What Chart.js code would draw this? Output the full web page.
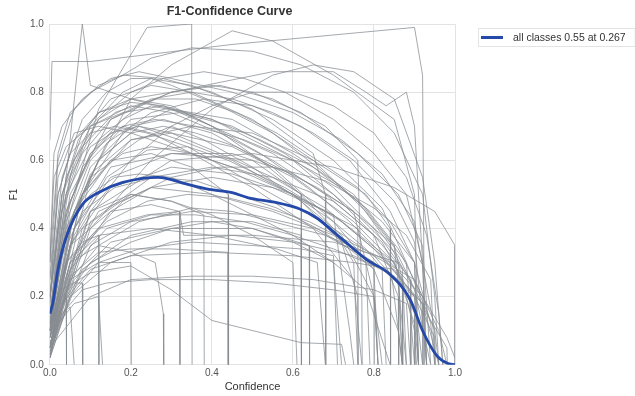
<!DOCTYPE html>
<html>
<head>
<meta charset="utf-8">
<script src="https://cdn.jsdelivr.net/npm/chart.js@4/dist/chart.umd.min.js"></script>
<style>
  html, body { margin: 0; padding: 0; background: #fff; }
  #wrap { width: 635px; height: 396px; }
</style>
</head>
<body>
<div id="wrap"><canvas id="chart"></canvas></div>
<script>
// ── DATA ──────────────────────────────────────────────────────────────────
const X_TICKS = [0, 0.2, 0.4, 0.6, 0.8, 1.0];
const Y_TICKS = [0, 0.2, 0.4, 0.6, 0.8, 1.0];

const ALL_LABEL = 'all classes 0.55 at 0.267';

// mean curve over all classes: [confidence, F1]
const ALL_CURVE = [
  [0,0.15],[0.007,0.18],[0.02,0.28],[0.042,0.38],[0.08,0.47],[0.123,0.507],
  [0.18,0.535],[0.267,0.55],[0.338,0.53],[0.387,0.516],[0.45,0.505],[0.49,0.49],
  [0.55,0.478],[0.617,0.457],[0.66,0.43],[0.70,0.39],[0.74,0.35],[0.78,0.31],
  [0.84,0.265],[0.89,0.19],[0.92,0.10],[0.955,0.027],[0.98,0.005],[1.0,0]
];

// per-class curves: [confidence, F1]
const CLASS_CURVES = [
  [[0,0.66],[0.005,0.89],[0.1,0.89],[0.45,0.94],[0.9,0.99],[0.92,0.85],[0.925,0]],
  [[0,0.2],[0.04,0.55],[0.08,1.0],[0.1,0.82],[0.2,0.78],[0.4,0.72],[0.6,0.6],[0.75,0.45],[0.8,0.2],[0.81,0]],
  [[0,0.1],[0.05,0.45],[0.12,0.75],[0.24,0.99],[0.35,1.0],[0.351,0]],
  [[0,0.05],[0.1,0.55],[0.2,0.78],[0.3,0.88],[0.45,0.98],[0.55,0.95],[0.7,0.85],[0.85,0.72],[0.9,0.5],[0.91,0]],
  [[0,0.15],[0.05,0.5],[0.15,0.72],[0.3,0.8],[0.55,0.86],[0.7,0.86],[0.78,0.8],[0.83,0.76],[0.88,0.8],[0.9,0.7],[0.92,0.3],[0.93,0]],
  [[0,0.08],[0.08,0.5],[0.18,0.68],[0.3,0.75],[0.45,0.72],[0.6,0.62],[0.75,0.5],[0.85,0.35],[0.88,0]],
  [[0,0.1],[0.03,0.35],[0.1,0.58],[0.2,0.7],[0.28,0.72],[0.4,0.68],[0.55,0.58],[0.7,0.42],[0.8,0.28],[0.86,0.1],[0.87,0]],
  [[0,0.05],[0.05,0.4],[0.12,0.6],[0.22,0.7],[0.32,0.66],[0.45,0.6],[0.6,0.5],[0.72,0.38],[0.8,0.2],[0.82,0]],
  [[0,0.12],[0.04,0.45],[0.1,0.62],[0.18,0.7],[0.25,0.68],[0.35,0.62],[0.5,0.52],[0.65,0.4],[0.75,0.25],[0.77,0]],
  [[0,0.05],[0.06,0.3],[0.15,0.45],[0.25,0.52],[0.4,0.55],[0.55,0.52],[0.7,0.44],[0.85,0.3],[0.9,0.12],[0.91,0]],
  [[0,0.02],[0.03,0.18],[0.1,0.28],[0.2,0.32],[0.4,0.33],[0.6,0.32],[0.75,0.3],[0.85,0.28],[0.9,0.2],[0.91,0]],
  [[0,0.1],[0.03,0.22],[0.1,0.27],[0.2,0.29],[0.3,0.22],[0.4,0.13],[0.62,0.065],[0.72,0.06],[0.73,0]],
  [[0,0.05],[0.02,0.15],[0.04,0.2],[0.041,0]],
  [[0,0.08],[0.03,0.2],[0.06,0.24],[0.08,0.24],[0.081,0]],
  [[0,0.1],[0.04,0.3],[0.08,0.36],[0.12,0.38],[0.121,0]],
  [[0,0.05],[0.05,0.25],[0.12,0.3],[0.2,0.3],[0.201,0]],
  [[0,0.08],[0.05,0.3],[0.12,0.35],[0.2,0.33],[0.26,0.3],[0.28,0.15],[0.281,0]],
  [[0,0.1],[0.05,0.35],[0.15,0.45],[0.25,0.47],[0.32,0.45],[0.321,0]],
  [[0,0.05],[0.08,0.4],[0.2,0.5],[0.3,0.48],[0.38,0.44],[0.381,0]],
  [[0,0.1],[0.06,0.45],[0.15,0.6],[0.25,0.62],[0.35,0.58],[0.44,0.5],[0.441,0]],
  [[0,0.15],[0.04,0.5],[0.1,0.7],[0.18,0.8],[0.25,0.84],[0.35,0.82],[0.5,0.75],[0.65,0.62],[0.68,0.5],[0.681,0]],
  [[0,0.05],[0.06,0.4],[0.15,0.58],[0.3,0.62],[0.5,0.6],[0.62,0.5],[0.621,0]],
  [[0,0.03],[0.06,0.25],[0.15,0.36],[0.3,0.4],[0.5,0.4],[0.64,0.35],[0.641,0]],
  [[0,0.1],[0.05,0.48],[0.12,0.66],[0.22,0.76],[0.3,0.8],[0.42,0.82],[0.55,0.78],[0.68,0.7],[0.76,0.6],[0.77,0.2],[0.771,0]],
  [[0,0.05],[0.05,0.35],[0.15,0.52],[0.3,0.58],[0.45,0.56],[0.6,0.5],[0.76,0.4],[0.761,0]],
  [[0,0.1],[0.08,0.5],[0.2,0.66],[0.35,0.7],[0.5,0.68],[0.65,0.6],[0.78,0.5],[0.84,0.4],[0.841,0]],
  [[0,0.06],[0.1,0.42],[0.25,0.55],[0.4,0.58],[0.55,0.55],[0.7,0.48],[0.82,0.36],[0.87,0.25],[0.871,0]],
  [[0,0.08],[0.05,0.4],[0.1,0.56],[0.2,0.66],[0.3,0.68],[0.45,0.64],[0.6,0.55],[0.75,0.42],[0.85,0.3],[0.9,0.15],[0.901,0]],
  [[0,0.2],[0.03,0.5],[0.08,0.68],[0.15,0.78],[0.25,0.82],[0.35,0.8],[0.5,0.72],[0.65,0.6],[0.78,0.45],[0.88,0.3],[0.95,0.1],[0.951,0]],
  [[0,0.1],[0.06,0.4],[0.15,0.55],[0.3,0.62],[0.45,0.62],[0.6,0.56],[0.75,0.45],[0.86,0.32],[0.93,0.15],[0.98,0.05],[0.981,0]],
  [[0,0.05],[0.1,0.35],[0.2,0.42],[0.35,0.45],[0.5,0.44],[0.65,0.4],[0.8,0.3],[0.9,0.2],[0.95,0.08],[0.951,0]],
  [[0,0.15],[0.05,0.55],[0.12,0.72],[0.2,0.78],[0.3,0.76],[0.4,0.7],[0.55,0.62],[0.7,0.5],[0.8,0.38],[0.86,0.2],[0.861,0]],
  [[0,0.1],[0.04,0.42],[0.1,0.6],[0.2,0.72],[0.32,0.74],[0.45,0.7],[0.58,0.62],[0.7,0.52],[0.8,0.4],[0.89,0.25],[0.891,0]],
  [[0,0.05],[0.05,0.3],[0.12,0.45],[0.25,0.52],[0.4,0.5],[0.55,0.45],[0.7,0.38],[0.8,0.3],[0.801,0]],
  [[0,0.02],[0.05,0.2],[0.15,0.3],[0.3,0.36],[0.45,0.38],[0.6,0.36],[0.75,0.32],[0.85,0.26],[0.92,0.18],[0.921,0]],
  [[0,0.04],[0.08,0.28],[0.2,0.38],[0.35,0.42],[0.5,0.42],[0.62,0.38],[0.621,0]],
  [[0,0.1],[0.02,0.3],[0.08,0.5],[0.15,0.6],[0.22,0.66],[0.3,0.7],[0.38,0.66],[0.5,0.58],[0.62,0.48],[0.72,0.36],[0.76,0.2],[0.761,0]],
  [[0,0.25],[0.02,0.6],[0.06,0.75],[0.12,0.82],[0.18,0.85],[0.28,0.84],[0.4,0.8],[0.55,0.72],[0.7,0.6],[0.82,0.46],[0.88,0.3],[0.9,0]],
  [[0,0.08],[0.06,0.38],[0.14,0.55],[0.24,0.63],[0.34,0.64],[0.44,0.6],[0.58,0.52],[0.72,0.42],[0.82,0.32],[0.9,0.2],[0.92,0]],
  [[0,0.03],[0.04,0.2],[0.1,0.3],[0.2,0.36],[0.3,0.4],[0.4,0.42],[0.5,0.4],[0.6,0.36],[0.7,0.3],[0.72,0]],
  [[0,0.12],[0.04,0.45],[0.1,0.62],[0.18,0.72],[0.25,0.76],[0.33,0.74],[0.4,0.7],[0.52,0.62],[0.64,0.52],[0.74,0.42],[0.84,0.3],[0.87,0]],
  [[0,0.05],[0.05,0.35],[0.1,0.45],[0.2,0.5],[0.3,0.48],[0.4,0.44],[0.5,0.38],[0.6,0.3],[0.61,0]],
  [[0,0.2],[0.03,0.55],[0.08,0.72],[0.14,0.8],[0.2,0.84],[0.25,0.84],[0.3,0.82],[0.42,0.76],[0.55,0.68],[0.66,0.58],[0.76,0.48],[0.84,0.35],[0.9,0.22],[0.94,0]],
  [[0,0.05],[0.1,0.2],[0.2,0.25],[0.35,0.26],[0.5,0.26],[0.65,0.25],[0.8,0.22],[0.88,0.18],[0.89,0]],
  [[0,0.12],[0.03,0.4],[0.08,0.58],[0.15,0.68],[0.22,0.7],[0.3,0.68],[0.42,0.62],[0.55,0.55],[0.68,0.46],[0.8,0.34],[0.92,0.18],[0.96,0]],
  [[0,0.3],[0.02,0.62],[0.05,0.74],[0.1,0.8],[0.18,0.85],[0.25,0.9],[0.35,0.93],[0.5,0.92],[0.62,0.88],[0.75,0.8],[0.85,0.68],[0.92,0.5],[0.95,0.2],[0.96,0]],
  [[0,0.2],[0.03,0.5],[0.07,0.66],[0.12,0.74],[0.2,0.77],[0.28,0.76],[0.4,0.7],[0.52,0.6],[0.62,0.5],[0.7,0.4],[0.75,0.3],[0.76,0]],
  [[0,0.05],[0.05,0.25],[0.12,0.35],[0.22,0.42],[0.35,0.46],[0.45,0.45],[0.55,0.42],[0.68,0.38],[0.8,0.32],[0.9,0.25],[0.96,0.1],[0.98,0]],
  [[0,0.1],[0.02,0.3],[0.05,0.42],[0.1,0.5],[0.16,0.55],[0.22,0.56],[0.3,0.55],[0.4,0.5],[0.5,0.44],[0.6,0.38],[0.7,0.3],[0.78,0.22],[0.84,0]],
  [[0,0.05],[0.1,0.4],[0.25,0.6],[0.4,0.75],[0.55,0.85],[0.65,0.88],[0.75,0.86],[0.85,0.78],[0.92,0.55],[0.95,0.3],[0.97,0]],
  [[0,0.18],[0.02,0.55],[0.06,0.68],[0.12,0.7],[0.2,0.68],[0.3,0.64],[0.45,0.58],[0.6,0.5],[0.7,0.44],[0.74,0.1],[0.75,0]],
  [[0,0.1],[0.05,0.3],[0.12,0.38],[0.25,0.4],[0.4,0.38],[0.56,0.34],[0.66,0.3],[0.68,0]],
  [[0,0.3],[0.01,0.62],[0.03,0.7],[0.08,0.78],[0.15,0.84],[0.22,0.86],[0.3,0.84],[0.45,0.8],[0.6,0.74],[0.72,0.66],[0.82,0.56],[0.9,0.42],[0.95,0.1],[0.96,0]],
  [[0,0.02],[0.02,0.12],[0.06,0.18],[0.12,0.2],[0.13,0]],
  [[0,0.03],[0.03,0.15],[0.05,0.17],[0.06,0]],
  [[0,0.1],[0.1,0.45],[0.3,0.6],[0.5,0.62],[0.7,0.58],[0.85,0.52],[0.95,0.45],[1.0,0.35],[1.0,0]],
  [[0,0.1],[0.03,0.45],[0.08,0.62],[0.15,0.72],[0.25,0.78],[0.35,0.8],[0.45,0.78],[0.55,0.74],[0.65,0.68],[0.75,0.6],[0.85,0.48],[0.9,0.36],[0.93,0]],
  [[0,0.15],[0.04,0.55],[0.1,0.7],[0.2,0.76],[0.3,0.74],[0.42,0.68],[0.55,0.6],[0.68,0.5],[0.8,0.38],[0.87,0.28],[0.88,0]],
  [[0,0.05],[0.06,0.45],[0.14,0.65],[0.25,0.74],[0.38,0.78],[0.5,0.76],[0.62,0.7],[0.74,0.6],[0.84,0.45],[0.9,0.3],[0.91,0]],
  [[0,0.2],[0.02,0.5],[0.06,0.66],[0.12,0.74],[0.2,0.78],[0.3,0.8],[0.4,0.82],[0.5,0.8],[0.62,0.74],[0.76,0.62],[0.86,0.5],[0.92,0.35],[0.94,0]],
  [[0,0.08],[0.05,0.42],[0.12,0.6],[0.2,0.68],[0.28,0.7],[0.36,0.68],[0.46,0.64],[0.56,0.58],[0.66,0.52],[0.76,0.44],[0.85,0.35],[0.9,0.1],[0.905,0]],
  [[0,0.1],[0.04,0.4],[0.1,0.55],[0.18,0.62],[0.25,0.64],[0.35,0.62],[0.5,0.56],[0.6,0.5],[0.7,0.42],[0.78,0.34],[0.82,0.28],[0.83,0]],
  [[0,0.3],[0.01,0.55],[0.04,0.64],[0.1,0.7],[0.18,0.74],[0.28,0.76],[0.4,0.72],[0.52,0.66],[0.65,0.58],[0.78,0.46],[0.86,0.34],[0.92,0.2],[0.93,0]],
  [[0,0.05],[0.08,0.35],[0.18,0.48],[0.3,0.55],[0.42,0.58],[0.55,0.58],[0.68,0.54],[0.8,0.46],[0.88,0.38],[0.94,0.25],[0.95,0]],
  [[0,0.1],[0.03,0.32],[0.08,0.45],[0.16,0.52],[0.26,0.55],[0.36,0.54],[0.46,0.5],[0.56,0.46],[0.66,0.4],[0.74,0.34],[0.8,0.28],[0.81,0]],
  [[0,0.02],[0.05,0.2],[0.12,0.3],[0.22,0.34],[0.35,0.36],[0.5,0.35],[0.62,0.34],[0.7,0.32],[0.71,0]],
  [[0,0.05],[0.05,0.28],[0.14,0.4],[0.25,0.44],[0.36,0.44],[0.48,0.42],[0.6,0.38],[0.7,0.34],[0.78,0.3],[0.79,0]],
  [[0,0.1],[0.02,0.4],[0.06,0.6],[0.12,0.72],[0.2,0.8],[0.28,0.84],[0.38,0.86],[0.48,0.84],[0.58,0.8],[0.7,0.72],[0.8,0.62],[0.88,0.5],[0.92,0.3],[0.93,0]],
  [[0,0.25],[0.02,0.5],[0.05,0.62],[0.1,0.68],[0.16,0.7],[0.24,0.68],[0.34,0.64],[0.46,0.56],[0.58,0.48],[0.7,0.4],[0.8,0.32],[0.86,0.24],[0.87,0]],
  [[0,0.05],[0.1,0.45],[0.2,0.6],[0.3,0.7],[0.4,0.76],[0.5,0.8],[0.6,0.8],[0.7,0.76],[0.8,0.68],[0.88,0.55],[0.93,0.38],[0.96,0.15],[0.97,0]],
  [[0,0.1],[0.04,0.3],[0.12,0.4],[0.24,0.44],[0.32,0.45],[0.33,0.38],[0.5,0.38],[0.7,0.36],[0.86,0.3],[0.87,0]],
  [[0,0.06],[0.05,0.26],[0.12,0.33],[0.2,0.34],[0.3,0.34],[0.44,0.33],[0.44,0]],
  [[0,0.12],[0.04,0.5],[0.1,0.64],[0.18,0.7],[0.26,0.72],[0.36,0.7],[0.48,0.66],[0.6,0.6],[0.72,0.52],[0.82,0.42],[0.9,0.3],[0.94,0.12],[0.95,0]],
  [[0,0.18],[0.03,0.5],[0.08,0.64],[0.16,0.74],[0.26,0.78],[0.36,0.78],[0.46,0.74],[0.56,0.68],[0.66,0.6],[0.76,0.52],[0.84,0.42],[0.9,0.3],[0.91,0]],
  [[0,0.04],[0.03,0.15],[0.08,0.22],[0.14,0.24],[0.25,0.25],[0.4,0.25],[0.55,0.24],[0.7,0.22],[0.8,0.2],[0.81,0]],
  [[0,0.08],[0.06,0.32],[0.14,0.42],[0.24,0.48],[0.34,0.5],[0.44,0.49],[0.54,0.46],[0.64,0.42],[0.74,0.36],[0.84,0.3],[0.92,0.2],[0.98,0.08],[1.0,0.02]]
];

// ── STYLE ─────────────────────────────────────────────────────────────────
const FONT = "'Liberation Sans', Arial, sans-serif";
const BLUE = '#2549a8';
const GREY = 'rgba(135,140,145,0.75)';

const toPoints = arr => arr.map(p => ({ x: p[0], y: p[1] }));

const datasets = [{
  label: ALL_LABEL,
  data: toPoints(ALL_CURVE),
  borderColor: BLUE, backgroundColor: BLUE,
  borderWidth: 2.8, pointRadius: 0,
  cubicInterpolationMode: 'monotone',
}].concat(CLASS_CURVES.map((c, i) => ({
  label: 'class ' + i,
  data: toPoints(c),
  borderColor: GREY, backgroundColor: GREY,
  borderWidth: 1, pointRadius: 0, tension: 0,
})));

// legend drawn by hand, just right of the plot, with a faint frame
const sideLegend = {
  id: 'sideLegend',
  afterDraw(chart) {
    const { ctx, chartArea } = chart;
    const ds = chart.data.datasets[0];
    const x0 = chartArea.right + 23, y0 = chartArea.top + 4;
    ctx.save();
    ctx.font = `10.5px ${FONT}`;
    const tw = ctx.measureText(ds.label).width;
    ctx.strokeStyle = '#e4e4e4';
    ctx.lineWidth = 1;
    ctx.strokeRect(x0 + 0.5, y0 + 0.5, tw + 44, 18);
    ctx.strokeStyle = ds.borderColor;
    ctx.lineWidth = 3;
    ctx.beginPath();
    ctx.moveTo(x0 + 3, y0 + 9.5);
    ctx.lineTo(x0 + 25, y0 + 9.5);
    ctx.stroke();
    ctx.fillStyle = '#333';
    ctx.textBaseline = 'middle';
    ctx.fillText(ds.label, x0 + 35, y0 + 10);
    ctx.restore();
  }
};

new Chart(document.getElementById('chart'), {
  type: 'line',
  data: { datasets },
  plugins: [sideLegend],
  options: {
    responsive: true, maintainAspectRatio: false,
    animation: false,
    events: [],
    layout: { padding: { left: 4, right: 180, top: 2, bottom: 2 } },
    plugins: {
      title: {
        display: true, text: 'F1-Confidence Curve',
        color: '#333', font: { family: FONT, size: 12.5, weight: 'bold' },
        padding: { top: 2, bottom: 5 },
      },
      legend: { display: false },
      tooltip: { enabled: false },
    },
    scales: {
      x: {
        type: 'linear', min: 0, max: 1,
        afterBuildTicks: ax => { ax.ticks = X_TICKS.map(v => ({ value: v })); },
        ticks: { callback: v => v.toFixed(1), color: '#555', font: { family: FONT, size: 10 }, maxRotation: 0, padding: 2 },
        grid: { color: '#e3e3e3', drawTicks: false },
        border: { color: '#e3e3e3' },
        title: { display: true, text: 'Confidence', color: '#333', font: { family: FONT, size: 11 }, padding: { top: 0, bottom: 0 } },
      },
      y: {
        min: 0, max: 1,
        afterBuildTicks: ax => { ax.ticks = Y_TICKS.map(v => ({ value: v })); },
        ticks: { callback: v => v.toFixed(1), color: '#555', font: { family: FONT, size: 10 }, padding: 6 },
        grid: { color: '#e3e3e3', drawTicks: false },
        border: { color: '#e3e3e3' },
        title: { display: true, text: 'F1', color: '#333', font: { family: FONT, size: 10 }, padding: { bottom: 4 } },
      }
    }
  }
});
</script>
</body>
</html>
